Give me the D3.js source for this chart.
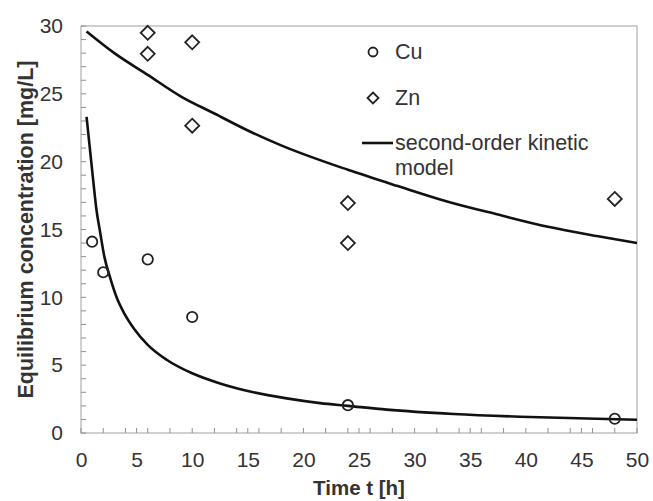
<!doctype html>
<html lang="en">
  <head>
    <meta charset="utf-8">
    <title>Equilibrium concentration</title>
    <script src="https://cdn.jsdelivr.net/npm/d3@7"></script>
    <style>
      body { margin: 0; background: #fff; }
      text { font-family: "Liberation Sans", Arial, sans-serif; }
    </style>
  </head>
  <body>
    <script>
      // measured points
      const cuTime = [1, 2, 6, 10, 24, 48];
      const cuConc = [14.1, 11.85, 12.8, 8.55, 2.05, 1.05];
      const znTime = [6, 6, 10, 10, 24, 24, 48];
      const znConc = [29.5, 27.95, 28.8, 22.65, 16.95, 14.0, 17.25];

      // second-order kinetic model
      const cuModelTime = [0.5, 1.1, 1.4, 1.7, 2.1, 2.6, 3.2, 3.9, 4.8, 6, 7.7, 10, 12.5, 15.5, 18.5, 21.5, 24, 27.5, 33.5, 39.5, 45.5, 50];
      const cuModelConc = [23.3, 18.6, 16.4, 14.9, 13.0, 11.5, 10.0, 8.8, 7.65, 6.5, 5.4, 4.4, 3.65, 3.0, 2.55, 2.2, 2.0, 1.72, 1.4, 1.2, 1.07, 0.98];
      const znModelTime = [0.5, 3, 6, 9, 12, 15, 18, 24, 28.5, 33, 37.5, 42, 46.5, 50];
      const znModelConc = [29.6, 28.0, 26.4, 24.8, 23.55, 22.3, 21.2, 19.4, 18.2, 17.05, 16.1, 15.2, 14.5, 14.0];

      const xTicks = [0, 5, 10, 15, 20, 25, 30, 35, 40, 45, 50];
      const yTicks = [0, 5, 10, 15, 20, 25, 30];

      const w = 653, h = 501;
      const mLeft = 81, mRight = 637, mTop = 26, mBottom = 433;

      const x = d3.scaleLinear().domain([0, 50]).range([mLeft, mRight]);
      const y = d3.scaleLinear().domain([0, 30]).range([mBottom, mTop]);

      const svg = d3.select("body").append("svg")
        .attr("width", w)
        .attr("height", h);

      // frame
      svg.append("rect")
        .attr("x", mLeft).attr("y", mTop)
        .attr("width", mRight - mLeft).attr("height", mBottom - mTop)
        .attr("fill", "none").attr("stroke", "#a0a0a0").attr("stroke-width", 1);

      // minor ticks: x every 2 and every 5, y every 1
      const xMinor = d3.range(0, 51).filter(d => d % 2 === 0 || d % 5 === 0);
      const yMinor = d3.range(0, 31);

      svg.append("g").selectAll("line").data(xMinor).enter().append("line")
        .attr("x1", d => x(d)).attr("x2", d => x(d))
        .attr("y1", mBottom).attr("y2", mBottom - 5)
        .attr("stroke", "#909090");
      svg.append("g").selectAll("line").data(yMinor).enter().append("line")
        .attr("x1", mLeft).attr("x2", mLeft + 5)
        .attr("y1", d => y(d)).attr("y2", d => y(d))
        .attr("stroke", "#909090");

      const xAxis = d3.axisBottom(x).tickValues(xTicks).tickSize(0).tickPadding(19);
      svg.append("g")
        .attr("transform", "translate(0," + mBottom + ")")
        .call(xAxis)
        .call(g => g.select(".domain").remove())
        .selectAll("text")
        .attr("font-size", 21).attr("fill", "#333")
        .style("font-family", "'Liberation Sans', Arial, sans-serif");

      const yAxis = d3.axisLeft(y).tickValues(yTicks).tickSize(0).tickPadding(18);
      svg.append("g")
        .attr("transform", "translate(" + mLeft + ",0)")
        .call(yAxis)
        .call(g => g.select(".domain").remove())
        .selectAll("text")
        .attr("font-size", 21).attr("fill", "#333")
        .style("font-family", "'Liberation Sans', Arial, sans-serif");

      // axis titles
      svg.append("text")
        .attr("x", (mLeft + mRight) / 2).attr("y", 495)
        .attr("text-anchor", "middle")
        .attr("font-size", 20.5).attr("font-weight", "bold").attr("fill", "#333")
        .text("Time t [h]");
      svg.append("text")
        .attr("transform", "translate(32.5,229.5) rotate(-90)")
        .attr("text-anchor", "middle")
        .attr("font-size", 21.5).attr("font-weight", "bold").attr("fill", "#333")
        .text("Equilibrium concentration [mg/L]");

      // model curves
      const line = d3.line()
        .x(d => x(d[0]))
        .y(d => y(d[1]))
        .curve(d3.curveMonotoneX);

      [d3.zip(cuModelTime, cuModelConc), d3.zip(znModelTime, znModelConc)].forEach(pts => {
        svg.append("path")
          .attr("d", line(pts))
          .attr("fill", "none")
          .attr("stroke", "#111")
          .attr("stroke-width", 2.6);
      });

      // markers
      const diamond = "M0,-7L7,0L0,7L-7,0Z";

      svg.append("g").selectAll("circle")
        .data(d3.zip(cuTime, cuConc)).enter().append("circle")
        .attr("cx", d => x(d[0])).attr("cy", d => y(d[1]))
        .attr("r", 5.2)
        .attr("fill", "none").attr("stroke", "#222").attr("stroke-width", 1.8);

      svg.append("g").selectAll("path")
        .data(d3.zip(znTime, znConc)).enter().append("path")
        .attr("transform", d => "translate(" + x(d[0]) + "," + y(d[1]) + ")")
        .attr("d", diamond)
        .attr("fill", "none").attr("stroke", "#222").attr("stroke-width", 1.8);

      // legend
      const lg = svg.append("g");
      lg.append("circle").attr("cx", 373).attr("cy", 52).attr("r", 4.5)
        .attr("fill", "none").attr("stroke", "#222").attr("stroke-width", 1.8);
      lg.append("text").attr("x", 395).attr("y", 58.5).attr("font-size", 21.5).attr("fill", "#333").text("Cu");

      lg.append("path").attr("transform", "translate(373,98)").attr("d", "M0,-5.5L5.5,0L0,5.5L-5.5,0Z")
        .attr("fill", "none").attr("stroke", "#222").attr("stroke-width", 1.8);
      lg.append("text").attr("x", 395).attr("y", 105).attr("font-size", 21.5).attr("fill", "#333").text("Zn");

      lg.append("line").attr("x1", 362).attr("x2", 393).attr("y1", 143).attr("y2", 143)
        .attr("stroke", "#111").attr("stroke-width", 2.6);
      lg.append("text").attr("x", 395).attr("y", 150).attr("font-size", 21.5).attr("fill", "#333").text("second-order kinetic");
      lg.append("text").attr("x", 395).attr("y", 175).attr("font-size", 21.5).attr("fill", "#333").text("model");
    </script>
  </body>
</html>
